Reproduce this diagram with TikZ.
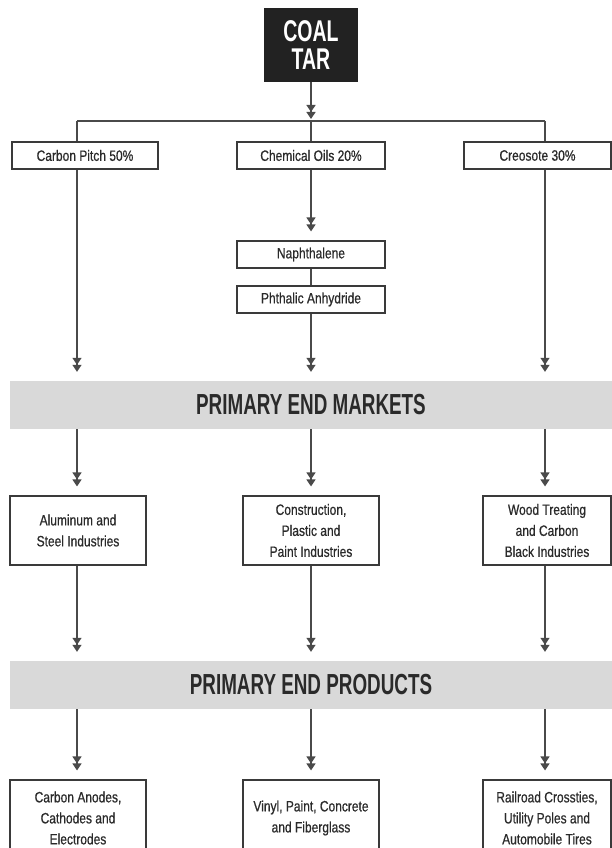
\documentclass[tikz,border=0pt]{standalone}
\usepackage{fontspec}
\setmainfont{Liberation Sans}
\newfontfamily\smallcond[FakeStretch=0.8,FakeBold=0.6]{Liberation Sans}
\newfontfamily\headcond[FakeStretch=0.65]{Liberation Sans}
\usetikzlibrary{arrows.meta}
\definecolor{linegray}{HTML}{4A4A4A}
\definecolor{boxline}{HTML}{3A3A3A}
\definecolor{txt}{HTML}{2A2A2A}
\definecolor{bandgray}{HTML}{D9D9D9}
\definecolor{darkbox}{HTML}{222222}
\tikzset{
  conn/.style={draw=linegray, line width=1.3pt},
  arr/.style={conn, -{Triangle[width=9pt,length=7pt]Triangle[width=9pt,length=7pt]}, shorten >=9pt},
  box/.style={draw=boxline, line width=1.2pt, fill=white, inner sep=0pt, align=center,
    text=txt, font=\smallcond\fontsize{15}{21}\selectfont},
  band/.style={fill=bandgray, inner sep=0pt, minimum width=602pt, minimum height=48pt,
    text=txt, font=\headcond\bfseries\fontsize{29}{28}\selectfont},
  coalbox/.style={fill=darkbox, inner sep=0pt, minimum width=94pt, minimum height=74pt,
    text=white, align=center, font=\headcond\bfseries\fontsize{30}{28}\selectfont}
}
\begin{document}
\begin{tikzpicture}[x=1pt,y=-1pt]
\useasboundingbox[fill=white] (0,0) rectangle (612,848);
% top
\node[coalbox] (coal) at (311,45) {COAL\\TAR};
\coordinate (jl) at (77,121);
\coordinate (jc) at (311,121);
\coordinate (jr) at (545,121);
\draw[conn] (jl) -- (jr);
\draw[arr, shorten >=2pt] (coal.south) -- (jc);
% first row
\node[box, minimum width=146pt, minimum height=27pt] (cp) at (85,155.5) {Carbon Pitch 50\%};
\node[box, minimum width=148pt, minimum height=27pt] (co) at (311,155.5) {Chemical Oils 20\%};
\node[box, minimum width=147pt, minimum height=27pt] (cr) at (537.5,155.5) {Creosote 30\%};
\draw[conn] (jl) -- (jl |- cp.north);
\draw[conn] (jc) -- (co.north);
\draw[conn] (jr) -- (jr |- cr.north);
% middle chain
\node[box, minimum width=148pt, minimum height=27pt] (naph) at (311,254.5) {Naphthalene};
\node[box, minimum width=148pt, minimum height=27pt] (phth) at (311,299.5) {Phthalic Anhydride};
\draw[arr] (co.south) -- (naph.north);
\draw[conn] (naph.south) -- (phth.north);
% band 1
\node[band] (markets) at (311,405) {PRIMARY END MARKETS};
\draw[arr] (jl |- cp.south) -- (jl |- markets.north);
\draw[arr] (phth.south) -- (markets.north);
\draw[arr] (jr |- cr.south) -- (jr |- markets.north);
% markets boxes
\node[box, minimum width=136pt, minimum height=69pt] (alu) at (78,530.5) {Aluminum and\\Steel Industries};
\node[box, minimum width=136pt, minimum height=69pt] (cons) at (311,530.5) {Construction,\\Plastic and\\Paint Industries};
\node[box, minimum width=128pt, minimum height=69pt] (wood) at (547,530.5) {Wood Treating\\and Carbon\\Black Industries};
\draw[arr] (jl |- markets.south) -- (jl |- alu.north);
\draw[arr] (markets.south) -- (cons.north);
\draw[arr] (jr |- markets.south) -- (jr |- wood.north);
% band 2
\node[band] (products) at (311,685) {PRIMARY END PRODUCTS};
\draw[arr] (jl |- alu.south) -- (jl |- products.north);
\draw[arr] (cons.south) -- (products.north);
\draw[arr] (jr |- wood.south) -- (jr |- products.north);
% product boxes
\node[box, minimum width=136pt, minimum height=76pt] (anod) at (78,818) {Carbon Anodes,\\Cathodes and\\Electrodes};
\node[box, minimum width=136pt, minimum height=76pt] (vinyl) at (311,818) {Vinyl, Paint, Concrete\\and Fiberglass};
\node[box, minimum width=128pt, minimum height=76pt] (rail) at (547,818) {Railroad Crossties,\\Utility Poles and\\Automobile Tires};
\draw[arr] (jl |- products.south) -- (jl |- anod.north);
\draw[arr] (products.south) -- (vinyl.north);
\draw[arr] (jr |- products.south) -- (jr |- rail.north);
\end{tikzpicture}
\end{document}
